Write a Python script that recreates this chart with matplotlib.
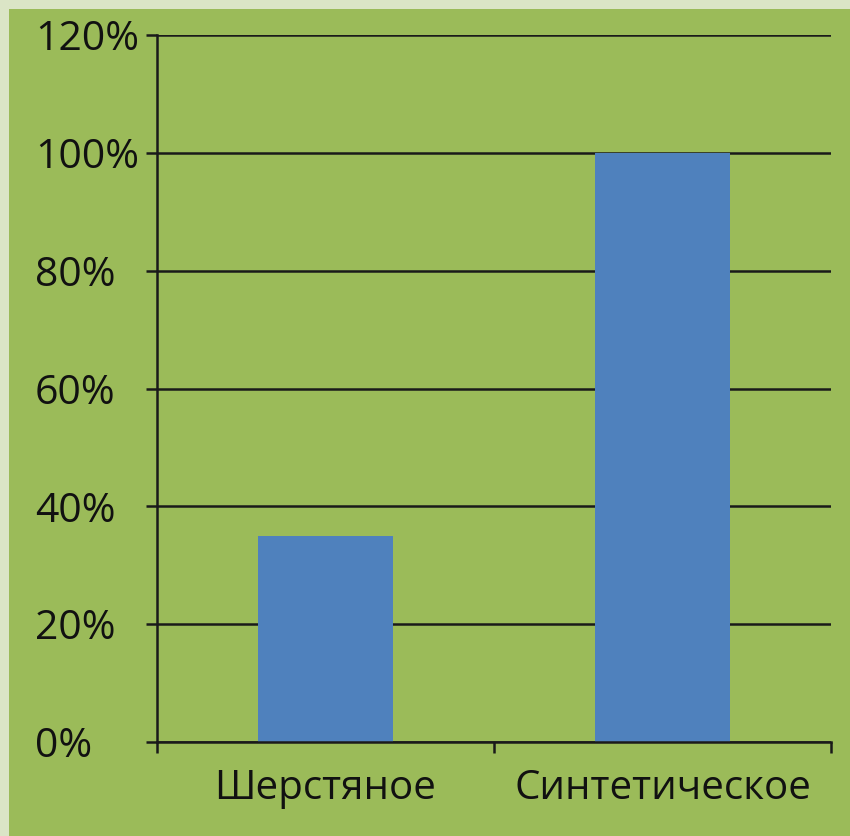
import matplotlib
matplotlib.use("Agg")
import matplotlib.pyplot as plt
from matplotlib.ticker import FuncFormatter
from matplotlib.patches import Rectangle

categories = ["Шерстяное", "Синтетическое"]
values = [35, 100]
yticks = [0, 20, 40, 60, 80, 100, 120]

plt.rcParams['font.family'] = ['Open Sans', 'DejaVu Sans']

W, H = 850, 836
fig = plt.figure(figsize=(W / 100, H / 100), dpi=100)
fig.patch.set_facecolor('#dbe5c6')

bg = fig.add_axes([9 / W, 0, 1 - 9 / W, 1 - 9 / H], zorder=-1)
bg.axis('off')
bg.add_patch(Rectangle((0, 0), 1, 1, transform=bg.transAxes, facecolor='#9bbb59',
                       edgecolor='none'))

ax = fig.add_axes([157 / W, 1 - 742 / H, (831 - 157) / W, (742 - 35) / H], zorder=1)
ax.set_facecolor('none')
x = list(range(len(categories)))
ax.bar(x, values, width=0.4, color='#4f81bd', zorder=2)
ax.set_xlim(-0.5, len(categories) - 0.5)
ax.set_ylim(0, 120)
ax.set_yticks(yticks)
ax.yaxis.set_major_formatter(FuncFormatter(lambda v, p: f"{int(v)}%"))
ax.set_xticks(x)
ax.set_xticklabels(categories)
ax.set_xticks([-0.5, 0.5, 1.5], minor=True)
ax.tick_params(axis='x', which='major', length=0, pad=19, labelsize=29, colors='#111111')
ax.tick_params(axis='x', which='minor', length=8, width=1.8, direction='out', color='#1a1a1a')
# label left edge at x=38 px: pad = (157 - 38 - 8) px in points
ax.tick_params(axis='y', length=8, width=1.8, direction='out', pad=(157 - 38 - 8) * 0.72,
               labelsize=29.5, colors='#1a1a1a', labelcolor='#111111')
for lbl in ax.get_yticklabels():
    lbl.set_horizontalalignment('left')
ax.grid(axis='y', color='#1a1a1a', linewidth=1.8, zorder=1)
ax.set_axisbelow(True)
for s in ['top', 'right']:
    ax.spines[s].set_visible(False)
for s in ['left', 'bottom']:
    ax.spines[s].set_color('#1a1a1a')
    ax.spines[s].set_linewidth(1.8)
    ax.spines[s].set_zorder(3)

fig.savefig('out.png', dpi=100, facecolor=fig.get_facecolor())
